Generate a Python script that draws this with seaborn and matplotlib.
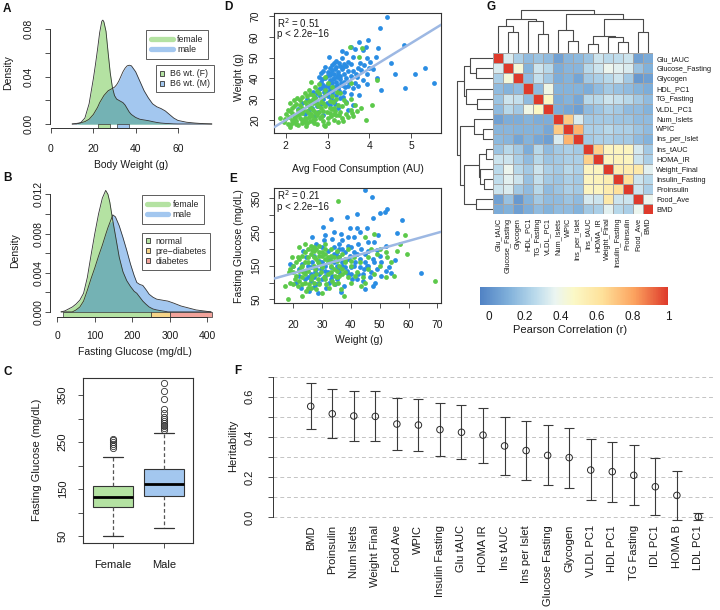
import numpy as np
import pandas as pd
import matplotlib
matplotlib.use("Agg")
import matplotlib.pyplot as plt
import seaborn as sns
from matplotlib.lines import Line2D
from matplotlib.patches import Patch
from matplotlib.colors import LinearSegmentedColormap

# ======================= DATA =======================
# Panel A: body weight density (shared x grid)
a_x = [10, 12, 14, 16, 18, 20, 21, 22, 23, 24, 24.5, 25, 26, 27, 28, 29, 30, 31, 32, 33, 34, 35, 36, 37, 38,
       40, 42, 44, 46, 48, 50, 52, 54, 56, 58, 60, 64, 68, 72, 76]
a_female = [0, 0, 0.001, 0.005, 0.017, 0.038, 0.050, 0.063, 0.077, 0.0865, 0.0875, 0.086, 0.078, 0.060, 0.043,
            0.031, 0.024, 0.021, 0.020, 0.019, 0.018, 0.016, 0.013, 0.010, 0.008,
            0.0055, 0.004, 0.0034, 0.0028, 0.002, 0.0013, 0.0008, 0.0005, 0.0003, 0.0001, 0, 0, 0, 0, 0]
a_male = [0, 0.0005, 0.001, 0.002, 0.004, 0.008, 0.011, 0.014, 0.018, 0.021, 0.0225, 0.024, 0.026, 0.028, 0.029,
          0.030, 0.031, 0.033, 0.036, 0.040, 0.044, 0.047, 0.049, 0.0495, 0.049,
          0.044, 0.036, 0.028, 0.022, 0.017, 0.0145, 0.013, 0.011, 0.008, 0.005, 0.003, 0.0015, 0.0008, 0.0003, 0]
b6_female_range = [22.2, 27.9]
b6_male_range = [31.2, 36.8]

# Panel B: fasting glucose density (shared x grid)
b_x = [10, 20, 30, 40, 50, 60, 70, 80, 90, 100, 110, 120, 129, 135, 140, 148, 155, 165, 175, 185, 195, 205,
       212, 220, 228, 236, 245, 255, 265, 280, 295, 310, 330, 350, 370, 390, 410]
b_female = [0, 0.0001, 0.0003, 0.0005, 0.0008, 0.0012, 0.0019, 0.0035, 0.0058, 0.0080, 0.0100, 0.0116, 0.0124,
            0.0120, 0.0112, 0.0093, 0.0078, 0.0056, 0.0041, 0.0032, 0.0026, 0.0021, 0.0019, 0.0015, 0.0011,
            0.0008, 0.0005, 0.0003, 0.0002, 0.0001, 0, 0, 0, 0, 0, 0, 0]
b_male = [0, 0, 0, 0, 0.0002, 0.0005, 0.0011, 0.0022, 0.0034, 0.0045, 0.0057, 0.0068, 0.0079, 0.0086, 0.0091,
          0.0099, 0.0097, 0.0088, 0.0076, 0.0063, 0.0049, 0.0037, 0.0030, 0.0028, 0.0027, 0.0023, 0.0018,
          0.0015, 0.0013, 0.0012, 0.0011, 0.0009, 0.0006, 0.0004, 0.0002, 0.0001, 0]
glucose_categories = ["normal", "pre\u2212diabetes", "diabetes"]
glucose_cat_ranges = [[16, 250], [250, 300], [300, 412]]

# Panel C: boxplot summaries (fasting glucose)
c_groups = ["Female", "Male"]
c_q1 = [111, 136]
c_med = [132, 160.5]
c_q3 = [157, 192]
c_whislo = [49, 67]
c_whishi = [219, 270]
c_fliers = [[238, 242, 246, 250, 254, 257],
            [276, 279, 283, 286, 290, 294, 298, 304, 311, 320, 341, 358, 375]]

# Panel D: food consumption vs weight
d_male_food = [4.43, 4.26, 4.83, 3.76, 3.98, 3.55, 3.66, 3.85, 4.20, 4.15, 3.95, 4.02, 3.88, 3.72, 3.80, 4.00,
               4.10, 5.09, 5.33, 5.55, 4.86, 4.62, 4.27, 4.51, 3.95, 3.94, 3.72, 3.04, 4.18, 3.50, 3.40, 3.30,
               3.20, 3.10, 3.35, 3.25, 3.15, 3.05, 2.95, 3.00, 3.40, 3.55, 3.60, 3.45, 3.30, 3.20, 3.10, 3.00,
               2.90, 2.85, 3.15, 3.25, 3.35, 3.50, 3.65, 3.05, 2.95, 2.80, 2.75, 3.10, 3.20, 3.40, 3.55, 3.30,
               3.00, 2.90, 2.70, 2.60, 3.15, 3.45, 2.85, 2.75, 3.05, 3.25, 2.55, 2.30, 2.45, 2.70, 2.90, 2.65,
               3.50, 3.60, 3.75, 2.95, 3.20, 3.35, 2.85, 2.80, 3.70, 3.85, 3.10, 3.45, 3.60, 2.65, 2.50, 2.40,
               3.15, 3.30, 3.05, 2.95,
               2.88, 2.98, 3.08, 3.18, 3.28, 3.38, 3.48, 3.12, 3.22, 3.32, 3.42, 3.02, 2.92, 3.12, 3.22, 3.52,
               3.62, 2.82, 3.08, 3.28, 2.72, 2.98, 3.18, 3.38, 2.62, 2.78, 3.02, 3.25, 3.45, 3.15, 2.90, 3.55,
               3.68, 3.78, 3.92, 3.35, 3.05, 2.85, 2.68, 3.40]
d_male_weight = [69.4, 64.1, 56.1, 57.4, 58.5, 55.0, 54.0, 53.5, 54.6, 50.5, 50.0, 48.0, 46.5, 45.0, 44.0, 45.0,
                 44.5, 42.0, 44.9, 37.6, 35.2, 42.0, 34.4, 47.6, 42.1, 37.3, 36.5, 50.5, 40.0, 48.0, 47.0, 46.0,
                 45.5, 44.0, 44.5, 43.0, 42.0, 41.5, 40.0, 43.0, 42.0, 41.0, 43.5, 40.0, 39.5, 38.5, 38.0, 37.5,
                 37.0, 38.5, 36.0, 35.5, 37.0, 36.5, 38.0, 35.0, 34.5, 35.0, 33.0, 33.0, 32.0, 33.5, 32.5, 30.5,
                 31.5, 30.0, 31.0, 29.0, 29.0, 28.5, 27.5, 26.5, 27.0, 26.0, 25.0, 25.5, 23.0, 22.0, 22.5, 19.5,
                 25.0, 27.0, 32.0, 45.5, 48.5, 50.0, 42.5, 40.5, 40.5, 39.0, 46.5, 52.0, 50.5, 33.5, 30.0, 28.0,
                 40.0, 41.0, 39.0, 36.0,
                 39.5, 41.0, 42.5, 44.5, 47.5, 45.5, 43.5, 39.5, 40.5, 38.0, 36.0, 36.5, 33.5, 34.5, 37.0, 38.5,
                 35.5, 31.5, 30.5, 34.0, 28.5, 28.0, 27.5, 31.0, 26.0, 24.0, 33.5, 41.5, 46.0, 47.5, 43.5, 47.0,
                 42.0, 47.5, 55.0, 53.0, 45.0, 35.5, 30.0, 38.5]
d_female_food = [1.87, 1.95, 2.05, 2.10, 2.15, 2.20, 2.25, 2.00, 2.10, 2.30, 2.35, 2.40, 2.45, 2.50, 2.55, 2.60,
                 2.65, 2.70, 2.75, 2.80, 2.85, 2.90, 2.95, 3.00, 3.05, 3.10, 3.15, 3.20, 3.25, 3.30, 3.35, 3.45,
                 3.55, 3.60, 3.65, 3.40, 3.20, 3.05, 2.90, 2.75, 2.60, 2.50, 2.40, 2.30, 2.20, 2.35, 2.50, 2.65,
                 2.45, 2.55, 2.70, 2.80, 2.95, 3.10, 2.20, 2.10, 2.55, 2.45, 2.65, 2.85, 2.35, 2.75, 3.00, 3.25,
                 3.50, 2.15, 2.05, 2.25, 2.60, 2.90, 3.15, 3.45, 3.70, 4.07, 3.92, 4.18, 3.54, 3.82, 3.76, 3.57,
                 3.00, 2.80, 2.95, 2.70, 2.60, 3.10, 2.55, 2.65, 2.85, 3.30, 3.55, 2.40, 2.25, 2.95, 3.15, 2.70,
                 3.35, 3.80,
                 2.22, 2.32, 2.42, 2.52, 2.62, 2.72, 2.82, 2.38, 2.48, 2.58, 2.68, 2.28, 2.18, 2.08, 2.78, 2.88,
                 2.98, 3.08, 3.18, 3.28, 2.55, 2.45, 2.35, 2.65, 2.85, 3.05, 3.12, 2.58, 2.38, 2.75, 1.98, 2.12,
                 2.48, 2.92, 3.38, 3.58, 2.15, 2.28, 2.95, 3.22]
d_female_weight = [21.0, 19.0, 18.0, 16.5, 20.0, 22.0, 19.5, 23.0, 24.5, 17.5, 21.0, 23.5, 19.0, 18.5, 21.5,
                   23.0, 25.0, 20.5, 22.5, 24.0, 26.0, 19.5, 17.0, 21.0, 23.5, 25.5, 20.0, 22.5, 27.0, 24.0,
                   26.5, 23.0, 25.0, 22.0, 27.0, 29.5, 30.0, 29.0, 28.0, 27.5, 28.5, 27.0, 26.0, 25.0, 26.5,
                   29.5, 31.5, 32.0, 33.0, 34.5, 30.5, 33.0, 32.0, 31.5, 29.5, 28.0, 23.5, 21.0, 20.0, 21.5,
                   24.0, 18.0, 18.5, 19.0, 21.5, 23.5, 25.0, 27.5, 26.0, 24.5, 26.0, 28.0, 24.5, 27.0, 20.0,
                   39.2, 55.3, 54.5, 50.5, 37.6, 38.0, 37.5, 40.5, 36.0, 38.5, 36.0, 29.0, 28.0, 30.5, 33.0,
                   30.0, 20.0, 18.0, 26.5, 23.0, 24.0, 21.0, 26.0,
                   21.0, 23.0, 25.0, 24.5, 22.0, 23.5, 21.0, 18.5, 20.5, 19.5, 18.5, 22.5, 19.0, 21.5, 26.5,
                   22.0, 24.0, 22.0, 24.5, 22.5, 26.5, 28.5, 27.0, 30.0, 28.5, 26.0, 28.5, 32.5, 31.0, 34.0,
                   20.5, 18.0, 17.0, 17.5, 19.5, 23.5, 26.0, 30.5, 34.5, 33.5]
d_fit = [12.33, -4.7]  # slope, intercept
d_stats = ["R$^2$ = 0.51", "p < 2.2e\u221216"]

# Panel E: weight vs fasting glucose
e_male_weight = [44.9, 47.2, 52.4, 51.8, 50.1, 57.6, 47.8, 42.2, 33.0, 38.5, 30.4, 26.6, 39.7, 45.5, 42.0, 55.9,
                 64.2, 44.9, 48.9, 53.3, 55.3, 53.8, 50.5, 49.0, 47.0, 45.5, 43.0, 41.0, 39.0, 37.0, 36.0, 35.0,
                 34.0, 33.0, 32.0, 31.0, 30.0, 29.0, 28.0, 27.0, 26.0, 25.0, 24.0, 23.0, 22.0, 21.0, 20.0, 19.0,
                 22.5, 25.5, 28.5, 31.5, 34.5, 37.5, 36.5, 40.5, 42.5, 44.5, 46.5, 48.5, 50.5, 52.0, 40.0, 38.0,
                 36.0, 34.0, 32.0, 30.0, 28.0, 38.5, 37.0, 35.5, 33.5, 31.0, 29.5, 27.5, 26.5, 24.5, 39.5, 41.5,
                 43.5, 45.0, 46.0, 47.5, 36.5, 41.0, 42.5, 30.5, 27.0, 23.5, 33.5, 44.0, 47.5, 39.0, 35.0, 32.5,
                 29.0, 26.0, 49.5,
                 35, 37, 39, 41, 43, 45, 38, 40, 42, 36, 34, 32, 30, 33, 35, 37, 31, 29, 27, 33, 36, 38, 40, 42,
                 44, 46, 48, 46, 50, 52, 28, 26, 24, 22, 25, 39, 43, 34, 31, 48]
e_male_glucose = [375, 355, 319, 311, 306, 286, 291, 304, 289, 294, 266, 234, 261, 261, 262, 246, 127, 81, 197,
                  147, 167, 127, 160, 140, 130, 150, 170, 190, 210, 225, 200, 180, 160, 145, 130, 120, 110, 100,
                  95, 88, 105, 115, 135, 155, 120, 100, 150, 155, 85, 75, 70, 85, 95, 90, 72, 110, 125, 140, 115,
                  100, 120, 135, 145, 165, 175, 185, 195, 205, 215, 135, 150, 140, 120, 150, 140, 130, 160, 175,
                  180, 160, 200, 185, 220, 170, 245, 235, 215, 225, 180, 195, 230, 105, 90, 125, 110, 100, 165,
                  145, 240,
                  150, 160, 170, 150, 145, 160, 190, 205, 185, 215, 205, 170, 160, 175, 190, 200, 135, 125, 115,
                  110, 130, 145, 125, 110, 125, 150, 160, 195, 180, 210, 140, 125, 110, 140, 150, 235, 250, 250,
                  240, 220]
e_female_weight = [35.6, 58.8, 69.2, 44.9, 48.0, 50.0, 52.0, 46.0, 43.0, 40.0, 38.0, 36.0, 34.0, 32.0, 30.0,
                   28.0, 26.0, 24.0, 22.0, 20.0, 18.5, 17.0, 18.0, 20.5, 21.5, 23.0, 24.5, 25.5, 26.5, 27.5,
                   28.5, 29.5, 30.5, 31.5, 32.5, 33.5, 34.5, 35.5, 36.5, 37.5, 26.0, 23.5, 22.5, 21.5, 19.5,
                   25.0, 27.0, 29.0, 31.0, 33.0, 35.0, 37.0, 39.0, 41.0, 42.0, 44.0, 46.0, 48.0, 50.0, 52.0,
                   54.0, 56.0, 22.0, 24.0, 26.5, 28.5, 30.0, 32.0, 34.0, 36.0, 38.0, 40.0, 41.5, 43.5, 45.0,
                   28.0, 30.0, 24.0, 20.0, 19.0, 23.0, 25.0, 27.0, 29.0, 31.0, 33.0, 35.0, 37.0, 39.0, 47.0,
                   49.0, 52.5, 55.0, 57.0, 59.5,
                   21, 22, 23, 24, 25, 26, 27, 28, 29, 30, 31, 32, 33, 34, 30, 28, 26, 24, 22, 20, 19, 21, 23, 25,
                   27, 29, 31, 33, 35, 36, 38, 40, 37, 35, 33, 31, 29, 27, 25, 23]
e_female_glucose = [341, 241, 106, 236, 245, 200, 190, 175, 160, 150, 130, 120, 140, 160, 180, 200, 210, 190,
                    170, 150, 130, 90, 50, 110, 90, 60, 75, 95, 120, 140, 160, 130, 115, 95, 85, 105, 120, 100,
                    80, 60, 85, 130, 145, 175, 175, 160, 175, 190, 200, 180, 165, 185, 200, 175, 130, 115, 140,
                    125, 150, 115, 160, 195, 205, 215, 198, 110, 145, 125, 95, 150, 170, 100, 118, 90, 100, 80,
                    70, 100, 130, 100, 115, 135, 150, 155, 170, 150, 135, 140, 115, 200, 185, 175, 120, 215, 185,
                    120, 135, 150, 160, 175, 185, 195, 170, 180, 190, 185, 175, 165, 175, 150, 125, 110, 125,
                    105, 95, 140, 160, 180, 200, 205, 210, 215, 200, 195, 175, 160, 165, 125, 115, 130, 110, 95,
                    100, 85, 95]
e_fit = [2.40, 79.8]
e_stats = ["R$^2$ = 0.21", "p < 2.2e\u221216"]

# Panel F: heritability estimates
f_traits = ["BMD", "Proinsulin", "Num Islets", "Weight Final", "Food Ave", "WPIC", "Insulin Fasting",
            "Glu tAUC", "HOMA IR", "Ins tAUC", "Ins per Islet", "Glucose Fasting", "Glycogen", "VLDL PC1",
            "HDL PC1", "TG Fasting", "IDL PC1", "HOMA B", "LDL PC1"]
f_h2 = [0.552, 0.515, 0.504, 0.502, 0.464, 0.459, 0.436, 0.423, 0.409, 0.355, 0.332, 0.308, 0.297, 0.235,
        0.227, 0.209, 0.152, 0.109, 0.003]
f_lo = [0.439, 0.396, 0.381, 0.378, 0.336, 0.330, 0.303, 0.288, 0.270, 0.211, 0.184, 0.161, 0.146, 0.085,
        0.075, 0.060, 0.012, -0.013, -0.013]
f_hi = [0.666, 0.638, 0.627, 0.627, 0.595, 0.588, 0.570, 0.559, 0.545, 0.499, 0.477, 0.457, 0.446, 0.388,
        0.376, 0.360, 0.293, 0.230, 0.023]

# Panel G: correlation matrix (already in clustered order)
g_traits = ["Glu_tAUC", "Glucose_Fasting", "Glycogen", "HDL_PC1", "TG_Fasting", "VLDL_PC1", "Num_Islets",
            "WPIC", "Ins_per_Islet", "Ins_tAUC", "HOMA_IR", "Weight_Final", "Insulin_Fasting", "Proinsulin",
            "Food_Ave", "BMD"]
g_corr = [
    [1, .33, .22, .15, .18, .15, .06, .13, .14, .18, .30, .26, .27, .30, .06, .09],
    [.33, 1, .43, .12, .30, .25, .10, .13, .13, .25, .30, .38, .35, .33, .17, .11],
    [.22, .43, 1, .15, .28, .20, .10, .12, .07, .20, .22, .25, .30, .20, .03, .05],
    [.15, .12, .15, 1, .15, .40, .12, .12, .12, .10, .15, .20, .17, .15, .12, .10],
    [.18, .30, .28, .15, 1, .48, .10, .12, .08, .25, .25, .30, .28, .25, .20, .15],
    [.15, .25, .20, .40, .48, 1, .10, .08, .05, .15, .18, .22, .20, .15, .15, .12],
    [.06, .10, .10, .12, .10, .10, 1, .70, .33, .20, .20, .20, .18, .18, .15, .15],
    [.13, .13, .12, .12, .12, .08, .70, 1, .76, .22, .22, .25, .22, .22, .18, .15],
    [.14, .13, .07, .12, .08, .05, .33, .76, 1, .20, .22, .22, .20, .20, .15, .12],
    [.18, .25, .20, .10, .25, .15, .20, .22, .20, 1, .68, .50, .50, .50, .32, .20],
    [.30, .30, .22, .15, .25, .18, .20, .22, .22, .68, 1, .50, .52, .50, .30, .22],
    [.26, .38, .25, .20, .30, .22, .20, .25, .22, .50, .50, 1, .55, .56, .58, .35],
    [.27, .35, .30, .17, .28, .20, .18, .22, .20, .50, .52, .55, 1, .63, .30, .25],
    [.30, .33, .20, .15, .25, .15, .18, .22, .20, .50, .50, .56, .63, 1, .30, .22],
    [.06, .17, .03, .12, .20, .15, .15, .18, .15, .32, .30, .58, .30, .30, 1, .38],
    [.09, .11, .05, .10, .15, .12, .15, .15, .12, .20, .22, .35, .25, .22, .38, 1],
]
# dendrogram merges: (child a, child b, height); leaves 0..15, new clusters 16..
g_merges = [(1, 2, 63), (0, 16, 83), (4, 5, 57), (3, 18, 98), (17, 19, 103),
            (7, 8, 37), (6, 21, 70), (9, 10, 27), (12, 13, 33), (11, 24, 48),
            (23, 25, 52), (14, 15, 63), (26, 27, 103), (22, 28, 117), (20, 29, 130)]

# ======================= STYLE =======================
sns.set_theme(style="white")
plt.rcParams["font.family"] = ["Liberation Sans", "DejaVu Sans"]
plt.rcParams["axes.linewidth"] = 0.7

GREEN_F = "#b4e2a2"
BLUE_F = "#a3c7ef"
TEAL = "#74b2b4"
EDGE = "#333333"
DOT_G = "#5cc94a"
DOT_B = "#2a8de3"
FIT = "#9db8e3"
TXT = "#1a1a1a"
TL = 3.8  # tick length (pt)

W, H = 720, 610
fig = plt.figure(figsize=(7.2, 6.1), dpi=100)


def add_ax(x0, y0, x1, y1):
    return fig.add_axes([x0 / W, 1 - y1 / H, (x1 - x0) / W, (y1 - y0) / H])


def fig_xy(px, py):
    return px / W, 1 - py / H


def base_ticks(ax, xpad, ypad, size=7.5):
    ax.tick_params(axis="x", direction="out", length=TL, width=0.6, color=EDGE, labelsize=size,
                   labelcolor=TXT, pad=xpad, bottom=True)
    ax.tick_params(axis="y", direction="out", length=TL, width=0.6, color=EDGE, labelsize=size,
                   labelcolor=TXT, pad=ypad, left=True)


def rot_y(ax):
    for t in ax.get_yticklabels():
        t.set_rotation(90)
        t.set_va("center")


def xlabel_at(ax, text, px, py, size=7.5):
    ax.set_xlabel(text, fontsize=size, color=TXT)
    ax.xaxis.set_label_coords(*fig_xy(px, py), transform=fig.transFigure)
    ax.xaxis.label.set_va("center")


def ylabel_at(ax, text, px, py, size=7.5):
    ax.set_ylabel(text, fontsize=size, color=TXT)
    ax.yaxis.set_label_coords(*fig_xy(px, py), transform=fig.transFigure)
    ax.yaxis.label.set_va("center")


def density_panel(ax, x, f, m):
    x = np.asarray(x); f = np.asarray(f); m = np.asarray(m)
    ax.fill_between(x, 0, m, color=BLUE_F, lw=0)
    ax.fill_between(x, 0, f, color=GREEN_F, lw=0)
    ax.fill_between(x, 0, np.minimum(f, m), color=TEAL, lw=0)
    sns.lineplot(x=x, y=m, ax=ax, color=EDGE, lw=0.6, sort=False, estimator=None)
    sns.lineplot(x=x, y=f, ax=ax, color=EDGE, lw=0.6, sort=False, estimator=None)
    for s in ["top", "right"]:
        ax.spines[s].set_visible(False)
    for s in ["left", "bottom"]:
        ax.spines[s].set_color(EDGE)
        ax.spines[s].set_linewidth(0.7)


def sex_legend(ax, anchor):
    leg = ax.legend(handles=[Line2D([], [], color=GREEN_F, lw=3.8, solid_capstyle="round"),
                             Line2D([], [], color=BLUE_F, lw=3.8, solid_capstyle="round")],
                    labels=["female", "male"], loc="upper left", bbox_to_anchor=fig_xy(*anchor),
                    bbox_transform=fig.transFigure, fontsize=6.3, frameon=True, fancybox=False,
                    edgecolor=EDGE, handlelength=2.5, handletextpad=0.5, borderpad=0.55,
                    labelspacing=0.1, borderaxespad=0)
    leg.get_frame().set_linewidth(0.7)
    ax.add_artist(leg)
    return leg


def box_legend(ax, anchor, colors, labels):
    leg = ax.legend(handles=[Patch(facecolor=c, edgecolor=EDGE, lw=0.6) for c in colors],
                    labels=labels, loc="upper left", bbox_to_anchor=fig_xy(*anchor),
                    bbox_transform=fig.transFigure, fontsize=6.3, frameon=True, fancybox=False,
                    edgecolor=EDGE, handlelength=0.5, handleheight=0.5, handletextpad=0.6, borderpad=0.45,
                    labelspacing=0.12, borderaxespad=0)
    leg.get_frame().set_linewidth(0.7)
    return leg


# ---------------- Panel A ----------------
axA = add_ax(50, 15, 215, 128)
density_panel(axA, a_x, a_female, a_male)
axA.set_xlim(-0.47, 77.5)
axA.set_ylim(-0.00337, 0.0918)
yb = axA.get_ylim()[0]
for rng, col in [(b6_female_range, GREEN_F), (b6_male_range, BLUE_F)]:
    axA.fill_between(rng, yb, 0, color=col, edgecolor=EDGE, lw=0.5)
axA.spines["left"].set_bounds(0, 0.08)
axA.spines["bottom"].set_bounds(0, 60)
axA.set_xticks([0, 20, 40, 60])
axA.set_yticks([0, 0.02, 0.04, 0.06, 0.08], labels=["0.00", "", "0.04", "", "0.08"])
base_ticks(axA, 7.7, 8.0)
rot_y(axA)
xlabel_at(axA, "Body Weight (g)", 131, 165)
ylabel_at(axA, "Density", 8.5, 73)
sex_legend(axA, (146, 30.3))
box_legend(axA, (156, 65.3), [GREEN_F, BLUE_F], ["B6 wt. (F)", "B6 wt. (M)"])

# ---------------- Panel B ----------------
axB = add_ax(50, 185, 215, 316.7)
density_panel(axB, b_x, b_female, b_male)
axB.set_xlim(-19.47, 420.5)
axB.set_ylim(-0.00049, 0.01295)
yb = axB.get_ylim()[0]
cat_cols = [GREEN_F, "#f6d488", "#f2a39b"]
for rng, col in zip(glucose_cat_ranges, cat_cols):
    axB.fill_between(rng, yb, 0, color=col, edgecolor=EDGE, lw=0.5)
axB.spines["left"].set_bounds(0, 0.012)
axB.spines["bottom"].set_bounds(0, 400)
axB.set_xticks([0, 100, 200, 300, 400])
axB.set_yticks([0, 0.002, 0.004, 0.006, 0.008, 0.010, 0.012],
               labels=["0.000", "", "0.004", "", "0.008", "", "0.012"])
base_ticks(axB, 6.5, 1.0)
rot_y(axB)
xlabel_at(axB, "Fasting Glucose (mg/dL)", 134.5, 352)
ylabel_at(axB, "Density", 15, 251)
sex_legend(axB, (141.7, 195))
box_legend(axB, (141.7, 233), cat_cols, glucose_categories)

# ---------------- Panel C ----------------
axC = add_ax(83.3, 377.7, 193.3, 543.3)
stats = []
for i, g in enumerate(c_groups):
    stats.append(dict(label=g, med=c_med[i], q1=c_q1[i], q3=c_q3[i], whislo=c_whislo[i],
                      whishi=c_whishi[i], fliers=c_fliers[i]))
bp = axC.bxp(stats, positions=[1, 2], widths=0.8, patch_artist=True, capwidths=0.4,
             boxprops=dict(edgecolor=EDGE, linewidth=0.8),
             medianprops=dict(color="black", linewidth=2.0),
             whiskerprops=dict(color="#555555", linewidth=0.9, linestyle=(0, (3, 2))),
             capprops=dict(color=EDGE, linewidth=0.9),
             flierprops=dict(marker="o", markerfacecolor="none", markeredgecolor=EDGE,
                             markersize=4.5, markeredgewidth=0.6))
for patch, col in zip(bp["boxes"], [GREEN_F, BLUE_F]):
    patch.set_facecolor(col)
axC.set_xlim(0.415, 2.58)
axC.set_ylim(34.5, 386.8)
axC.set_xticks([1, 2], labels=c_groups)
axC.set_yticks([50, 100, 150, 200, 250, 300, 350], labels=["50", "", "150", "", "250", "", "350"])
base_ticks(axC, 8.0, 7.5, size=8)
rot_y(axC)
for s in axC.spines.values():
    s.set_color(EDGE); s.set_linewidth(0.8)
ylabel_at(axC, "Fasting Glucose (mg/dL)", 36.7, 460, size=8)

# ---------------- Panel D ----------------
axD = add_ax(274.3, 12.9, 441.5, 132.7)
sns.scatterplot(x=d_male_food, y=d_male_weight, ax=axD, color=DOT_B, s=12, linewidth=0, legend=False)
sns.scatterplot(x=d_female_food, y=d_female_weight, ax=axD, color=DOT_G, s=12, linewidth=0, legend=False)
axD.axline((0, d_fit[1]), slope=d_fit[0], color=FIT, lw=1.8, zorder=3)
axD.set_xlim(1.727, 5.727)
axD.set_ylim(13.9, 71.5)
axD.set_xticks([2, 3, 4, 5])
axD.set_yticks([20, 30, 40, 50, 60, 70])
base_ticks(axD, 2.5, 6.5)
rot_y(axD)
for s in axD.spines.values():
    s.set_color(EDGE); s.set_linewidth(0.8)
axD.text(0.014, 0.918, d_stats[0], transform=axD.transAxes, fontsize=7, color=TXT, va="center")
axD.text(0.014, 0.826, d_stats[1], transform=axD.transAxes, fontsize=7, color=TXT, va="center")
xlabel_at(axD, "Avg Food Consumption (AU)", 357.5, 169)
ylabel_at(axD, "Weight (g)", 239, 77.5)

# ---------------- Panel E ----------------
axE = add_ax(274.3, 187.7, 441.5, 302.7)
sns.scatterplot(x=e_male_weight, y=e_male_glucose, ax=axE, color=DOT_B, s=12, linewidth=0, legend=False)
sns.scatterplot(x=e_female_weight, y=e_female_glucose, ax=axE, color=DOT_G, s=12, linewidth=0, legend=False)
axE.axline((0, e_fit[1]), slope=e_fit[0], color=FIT, lw=1.8, zorder=3)
axE.set_xlim(13.4, 71.4)
axE.set_ylim(40, 382)
axE.set_xticks([20, 30, 40, 50, 60, 70])
axE.set_yticks([50, 100, 150, 200, 250, 300, 350], labels=["50", "", "150", "", "250", "", "350"])
base_ticks(axE, 8.5, 5.3)
rot_y(axE)
for s in axE.spines.values():
    s.set_color(EDGE); s.set_linewidth(0.8)
axE.text(0.014, 0.934, e_stats[0], transform=axE.transAxes, fontsize=7, color=TXT, va="center")
axE.text(0.014, 0.832, e_stats[1], transform=axE.transAxes, fontsize=7, color=TXT, va="center")
xlabel_at(axE, "Weight (g)", 358.7, 340)
ylabel_at(axE, "Fasting Glucose (mg/dL)", 239, 246)

# ---------------- Panel F ----------------
axF = add_ax(272.7, 368, 715, 522)
pos = np.arange(1, len(f_traits) + 1)
grid_levels = [0.0, 0.1, 0.2, 0.3, 0.4, 0.5, 0.6, 0.7]
for g in grid_levels:
    axF.axhline(g, color="#c4c4c4", lw=0.7, ls=(0, (4, 3)), zorder=0)
h2 = np.array(f_h2); lo = np.array(f_lo); hi = np.array(f_hi)
axF.errorbar(pos, h2, yerr=[h2 - lo, hi - h2], fmt="none", ecolor="#3a3a3a", elinewidth=0.8,
             capsize=3.6, capthick=0.8, zorder=2)
sns.scatterplot(x=pos, y=h2, ax=axF, marker="o", s=22, facecolor="none", edgecolor="#2a2a2a",
                linewidth=0.7, zorder=3, legend=False)
axF.set_xlim(-0.765, 19.77)
axF.set_ylim(-0.0234, 0.7428)
for s in ["top", "right", "bottom"]:
    axF.spines[s].set_visible(False)
axF.spines["left"].set_bounds(0, 0.7)
axF.spines["left"].set_color(EDGE)
axF.set_yticks(grid_levels, labels=["0.0", "", "0.2", "", "0.4", "", "0.6", ""])
axF.set_xticks(pos, labels=f_traits)
base_ticks(axF, 2.2, 8.9, size=8)
axF.tick_params(axis="x", length=0, labelrotation=90)
rot_y(axF)
ylabel_at(axF, "Heritability", 233, 446, size=8)

# ---------------- Panel G ----------------
cmap = LinearSegmentedColormap.from_list("corr", [
    (0.0, "#5082c4"), (0.15, "#80b0da"), (0.3, "#bddcec"), (0.4, "#ebf5f1"), (0.5, "#fbf8c6"),
    (0.65, "#fee19a"), (0.82, "#fca35f"), (1.0, "#de3a2b")])
axG = add_ax(493.3, 53.3, 652.7, 214.3)
cax = add_ax(480, 286.7, 668, 305)
corr_df = pd.DataFrame(g_corr, index=g_traits, columns=g_traits)
sns.heatmap(corr_df, ax=axG, cmap=cmap, vmin=-0.05, vmax=1, linewidths=0.7, linecolor="#a6a6a6",
            cbar_ax=cax, cbar_kws=dict(orientation="horizontal", ticks=[0, 0.2, 0.4, 0.6, 0.8, 1]),
            xticklabels=True, yticklabels=True)
axG.yaxis.tick_right()
axG.tick_params(axis="y", length=0, pad=2.5, labelsize=5.3, labelrotation=0, labelcolor=TXT)
axG.tick_params(axis="x", length=0, pad=2.5, labelsize=5.3, labelrotation=90, labelcolor=TXT)
for t in axG.get_yticklabels():
    t.set_ha("left")
cbar = axG.collections[0].colorbar
cbar.outline.set_visible(False)
cbar.ax.set_xticklabels(["0", "0.2", "0.4", "0.6", "0.8", "1"])
cbar.ax.tick_params(length=0, labelsize=8.5, pad=4.5, labelcolor=TXT)
fig.text(*fig_xy(570, 330), "Pearson Correlation (r)", fontsize=8, color=TXT, ha="center", va="center")


def draw_dendro(ax, merges, n, orient):
    xs_pos = {i: i + 0.5 for i in range(n)}
    hts = {i: 0.0 for i in range(n)}
    for k, (a, b, h) in enumerate(merges):
        xa, xb = xs_pos[a], xs_pos[b]
        ha, hb = hts[a], hts[b]
        px = [xa, xa, xb, xb]
        py = [ha, h, h, hb]
        if orient == "top":
            ax.plot(px, py, color="#4a4a4a", lw=0.8, solid_capstyle="butt")
        else:
            ax.plot(py, px, color="#4a4a4a", lw=0.8, solid_capstyle="butt")
        xs_pos[n + k] = (xa + xb) / 2
        hts[n + k] = h


axTop = add_ax(493.3, 9.3, 652.7, 53.3)
draw_dendro(axTop, g_merges, len(g_traits), "top")
axTop.set_xlim(0, 16); axTop.set_ylim(0, 132); axTop.axis("off")
axLeft = add_ax(456, 53.3, 493.3, 214.3)
draw_dendro(axLeft, g_merges, len(g_traits), "left")
axLeft.set_ylim(16, 0); axLeft.set_xlim(133, 0); axLeft.axis("off")

# ---------------- panel letters ----------------
for letter, px, py in [("A", 3, 8.5), ("B", 3, 178), ("C", 3, 372), ("D", 224, 7), ("E", 229, 179),
                       ("F", 234, 371.5), ("G", 486, 6.5)]:
    fig.text(*fig_xy(px, py), letter, fontsize=8.5, fontweight="bold", color="#111111",
             ha="left", va="center")

fig.savefig("out.png", dpi=100, facecolor="white")
